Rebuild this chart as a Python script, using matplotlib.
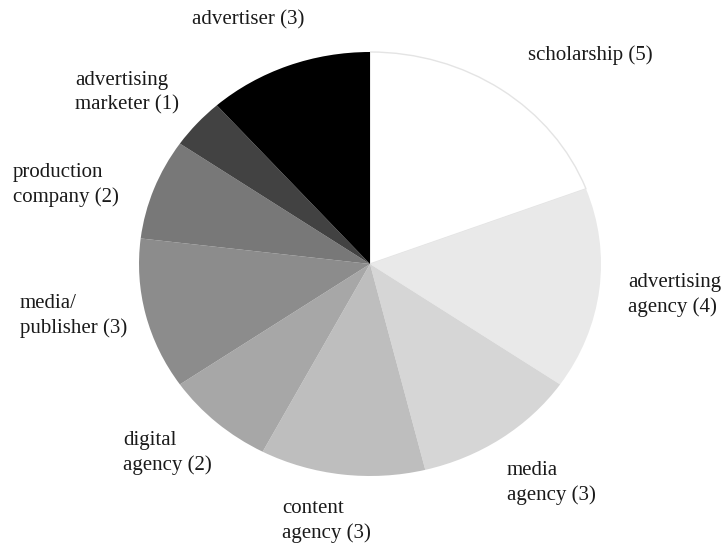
import matplotlib
matplotlib.use("Agg")
import matplotlib.pyplot as plt

labels = ["scholarship (5)", "advertising\nagency (4)", "media\nagency (3)", "content\nagency (3)",
          "digital\nagency (2)", "media/\npublisher (3)", "production\ncompany (2)",
          "advertising\nmarketer (1)", "advertiser (3)"]
values = [5, 4, 3, 3, 2, 3, 2, 1, 3]
colors = ["#ffffff", "#e9e9e9", "#d6d6d6", "#bebebe", "#a7a7a7", "#8c8c8c", "#787878", "#424242", "#000000"]
# label positions in pixels (left x, centre y)
label_pos = [(528, 55), (628, 295), (507, 483), (282, 521), (123, 453), (20, 316), (13, 185), (75, 93), (192, 20)]

W, H = 723, 544
cx, cy, rx, ry = 370, 264, 231, 212

fig = plt.figure(figsize=(W / 100, H / 100), dpi=100)
ax = fig.add_axes([0, 0, 1, 1])
wedges, _ = ax.pie(values, colors=colors, startangle=90, counterclock=False,
                   radius=1, center=(0, 0), wedgeprops=dict(linewidth=0))
wedges[0].set_edgecolor("#e4e4e4")
wedges[0].set_linewidth(1.0)
ax.set_aspect("auto")
ax.set_xlim(-cx / rx, (W - cx) / rx)
ax.set_ylim(-(H - cy) / ry, cy / ry)
ax.axis("off")

for lab, (px, py) in zip(labels, label_pos):
    fig.text(px / W, 1 - py / H, lab, ha="left", va="center", fontsize=15,
             family="Liberation Serif", color="#1a1a1a", linespacing=1.4)

fig.savefig("out.png", dpi=100)
